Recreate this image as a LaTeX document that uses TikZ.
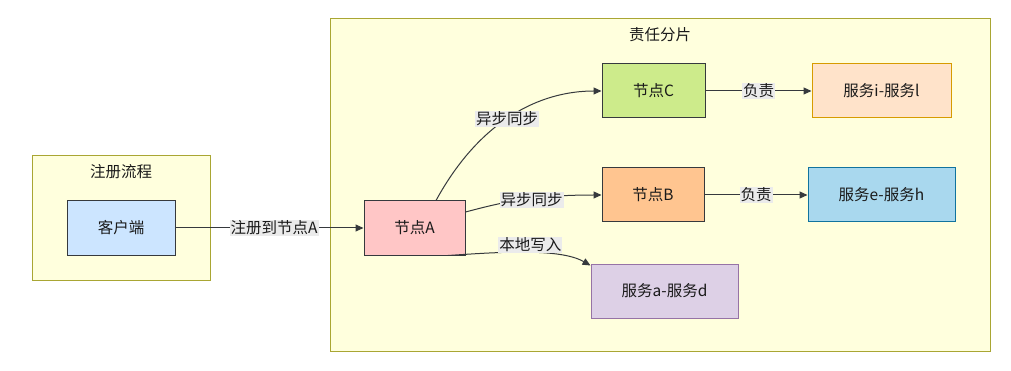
\documentclass[tikz,border=0pt]{standalone}
\usepackage{fontspec}
\setmainfont{Noto Sans CJK SC}
\usepackage{xcolor}
\usepackage{tikz}
\usetikzlibrary{arrows.meta,positioning,calc}
\definecolor{ink}{HTML}{1A1A1A}
\definecolor{edge}{HTML}{36393D}
\definecolor{groupbg}{HTML}{FFFFDD}
\definecolor{groupline}{HTML}{A9A633}
\definecolor{clientbg}{HTML}{CCE5FF}
\definecolor{nodeabg}{HTML}{FFC6C6}
\definecolor{nodebbg}{HTML}{FFC590}
\definecolor{nodecbg}{HTML}{CDEB8B}
\definecolor{svcorbg}{HTML}{FFE3CA}
\definecolor{svcorline}{HTML}{D79B00}
\definecolor{svcblbg}{HTML}{A9D8EE}
\definecolor{svcblline}{HTML}{10739E}
\definecolor{svcvibg}{HTML}{DDD0E6}
\definecolor{svcviline}{HTML}{9673A6}
\definecolor{labelbg}{HTML}{EBEBEB}
\tikzset{
  >={Triangle[length=8pt,width=7pt]},
  every node/.style={font=\fontsize{15.5}{18}\selectfont,text=ink},
  group/.style={draw=groupline,fill=groupbg,line width=1pt,inner sep=0pt},
  title/.style={inner sep=0pt},
  box/.style={draw=edge,line width=1pt,inner sep=0pt,minimum height=54pt},
  svc/.style={box,minimum width=147pt},
  arrow/.style={->,line width=1pt,draw=edge},
  labelbox/.style={fill=labelbg,inner sep=1pt}
}
\begin{document}
\begin{tikzpicture}[x=1pt,y=-1pt]
  \useasboundingbox[fill=white] (0,0) rectangle (1011,371);

  % groups
  \node[group,minimum width=178pt,minimum height=124pt] (reggroup) at (121,218) {};
  \node[title] (regtitle) at (121,172) {注册流程};
  \node[group,minimum width=660pt,minimum height=332pt] (shardgroup) at (660,185) {};
  \node[title] (shardtitle) at (660,35) {责任分片};

  % nodes
  \node[box,fill=clientbg,minimum width=108pt] (client) at (121,228) {客户端};
  \node[box,fill=nodeabg,minimum width=101pt] (nodeA) at (414.5,228) {节点A};
  \node[box,fill=nodecbg,minimum width=103pt] (nodeC) at (653.5,91) {节点C};
  \node[box,fill=nodebbg,minimum width=102pt] (nodeB) at (653,195) {节点B};
  \node[svc,fill=svcorbg,draw=svcorline,minimum width=139pt] (svcIL) at (881.5,91) {服务i-服务l};
  \node[svc,fill=svcblbg,draw=svcblline] (svcEH) at (881.5,195) {服务e-服务h};
  \node[svc,fill=svcvibg,draw=svcviline] (svcAD) at (664.5,291) {服务a-服务d};

  % connectors
  \draw[arrow] (client) -- node[labelbox,pos=0.525]{注册到节点A} (nodeA);
  \draw[arrow] ([xshift=21.5pt]nodeA.north) .. controls (480,120) and (540,91) .. node[labelbox,pos=0.47]{异步同步} (nodeC.west);
  \draw[arrow] ([yshift=16pt]nodeA.east) .. controls (500,203) and (530,195) .. node[labelbox,pos=0.5,xshift=12pt]{异步同步} (nodeB.west);
  \draw[arrow] ([xshift=33.5pt]nodeA.south) .. controls (500,252) and (560,248) .. node[labelbox,pos=0.52,yshift=8pt]{本地写入} ([yshift=-2pt]svcAD.north west);
  \draw[arrow] (nodeC) -- node[labelbox]{负责} (svcIL);
  \draw[arrow] (nodeB) -- node[labelbox]{负责} (svcEH);
\end{tikzpicture}
\end{document}
